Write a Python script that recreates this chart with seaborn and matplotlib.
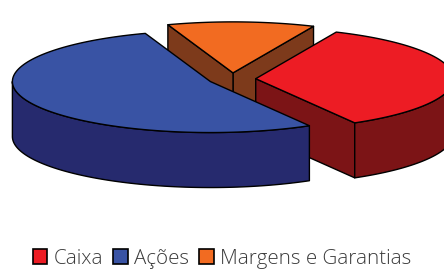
import numpy as np
import seaborn as sns
import matplotlib.pyplot as plt
from matplotlib.patches import Polygon, Patch

# chart data
labels = ["Caixa", "Ações", "Margens e Garantias"]
values = [35, 53, 12]
top_colors = ["#ED1C24", "#3953A4", "#F26B21"]
side_colors = ["#7C1416", "#262A6E", "#7D3A1B"]

sns.set_theme(style="white")
plt.rcParams["font.family"] = ["Open Sans", "DejaVu Sans"]

# pie geometry (pixel units)
cx, cy = 232, 79
rx, ry = 198, 51
depth = 55
explode = 0.12
start_angle = 66  # clockwise from here, like Excel


def arc(x0, y0, t1, t2, n=120):
    t = np.radians(np.linspace(t1, t2, n))
    return np.column_stack([x0 + rx * np.cos(t), y0 - ry * np.sin(t)])


def draw_slice(ax, t1, t2, top, side):
    mid = np.radians((t1 + t2) / 2)
    sx = cx + explode * rx * np.cos(mid)
    sy = cy - explode * ry * np.sin(mid)
    kw = dict(edgecolor="black", linewidth=1.0, joinstyle="round")

    # radial faces
    for t, visible in ((t1, np.cos(np.radians(t1)) > 0), (t2, np.cos(np.radians(t2)) < 0)):
        if not visible:
            continue
        ex = sx + rx * np.cos(np.radians(t))
        ey = sy - ry * np.sin(np.radians(t))
        quad = [(sx, sy), (ex, ey), (ex, ey + depth), (sx, sy + depth)]
        ax.add_patch(Polygon(quad, closed=True, facecolor=side, **kw))

    # curved outer side, front half only
    for k in range(-1, 2):
        a = max(t1, 180 + 360 * k)
        b = min(t2, 360 + 360 * k)
        if b > a:
            upper = arc(sx, sy, a, b)
            lower = upper[::-1] + [0, depth]
            ax.add_patch(Polygon(np.vstack([upper, lower]), closed=True,
                                 facecolor=side, **kw))

    # top face
    pts = np.vstack([[sx, sy], arc(sx, sy, t1, t2)])
    ax.add_patch(Polygon(pts, closed=True, facecolor=top, **kw))


fig = plt.figure(figsize=(4.44, 2.71), dpi=100)
ax = fig.add_axes([0, 0, 1, 1])
ax.set_xlim(0, 444)
ax.set_ylim(271, 0)
ax.axis("off")

fracs = np.array(values) / sum(values) * 360
slices = []
end = start_angle
for f, tc, sc in zip(fracs, top_colors, side_colors):
    t1 = end - f
    slices.append((t1, end, tc, sc))
    end = t1

# back slices first
slices.sort(key=lambda s: -np.sin(np.radians((s[0] + s[1]) / 2)))
for t1, t2, tc, sc in slices:
    draw_slice(ax, t1, t2, tc, sc)

handles = [Patch(facecolor=c, edgecolor="black", linewidth=1.2) for c in top_colors]
fig.legend(handles, labels, loc="lower center", bbox_to_anchor=(0.5, -0.06),
           ncol=3, frameon=False, prop=dict(size=14.8, weight="light"),
           handlelength=0.7, handleheight=0.7, handletextpad=0.3,
           columnspacing=0.5, labelcolor="#3a3a3a")

fig.savefig("out.png", dpi=100)
